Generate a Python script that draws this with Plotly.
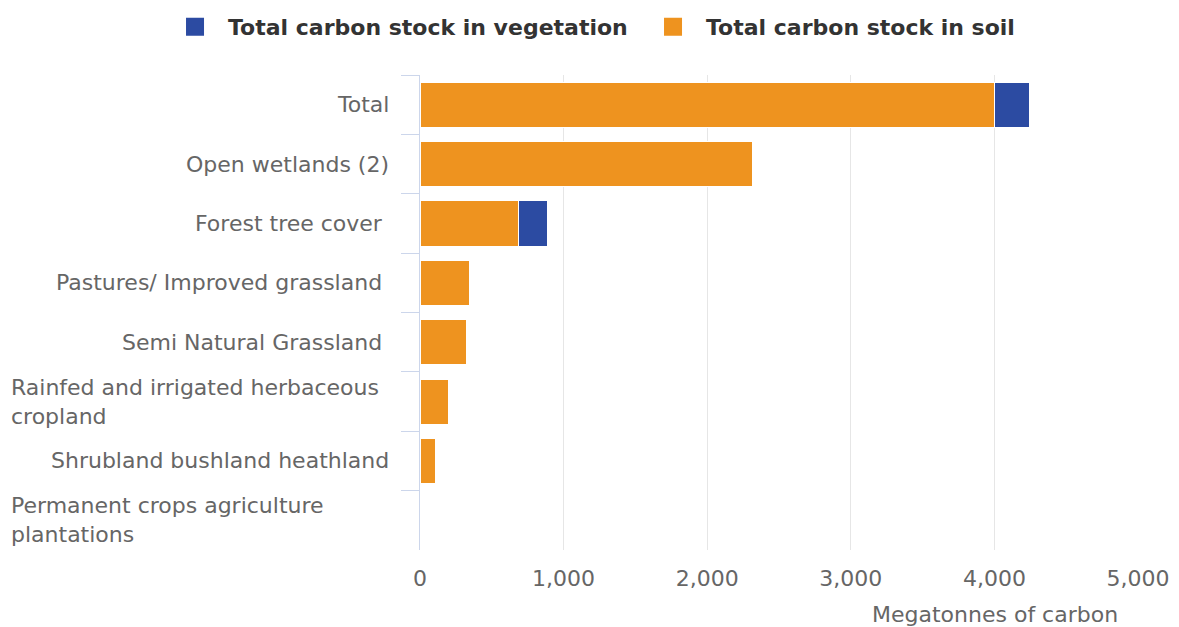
import plotly.graph_objects as go

categories = [
    "Total",
    "Open wetlands (2)",
    "Forest tree cover\u00a0",
    "Pastures/ Improved grassland\u00a0",
    "Semi Natural Grassland\u00a0",
    "Rainfed and irrigated herbaceous<br>cropland",
    "Shrubland bushland heathland",
    "Permanent crops agriculture<br>plantations",
]
soil = [4000, 2318, 683, 348, 321, 195, 111, 10]
vegetation = [245, 0, 202, 0, 0, 0, 0, 0]
x_ticks = [0, 1000, 2000, 3000, 4000, 5000]

series_names = ["Total carbon stock in vegetation", "Total carbon stock in soil"]
ORANGE = "#ee931f"
BLUE = "#2c4ba2"
FONT = "DejaVu Sans"

cat_ids = list(range(len(categories)))

fig = go.Figure()
fig.add_trace(go.Bar(
    y=cat_ids, x=soil, orientation="h", name=series_names[1],
    marker=dict(color=ORANGE, line=dict(color="#ffffff", width=1)),
    showlegend=False,
))
fig.add_trace(go.Bar(
    y=cat_ids, x=vegetation, orientation="h", name=series_names[0],
    marker=dict(color=BLUE, line=dict(color="#ffffff", width=1)),
    showlegend=False,
))
# legend entries
fig.add_trace(go.Scatter(x=[None], y=[None], mode="markers", name=series_names[0],
                         marker=dict(symbol="square", size=16, color=BLUE,
                                     line=dict(color=BLUE, width=2))))
fig.add_trace(go.Scatter(x=[None], y=[None], mode="markers", name=series_names[1],
                         marker=dict(symbol="square", size=16, color=ORANGE,
                                     line=dict(color=ORANGE, width=2))))

annotations = []
for i, lab in enumerate(categories):
    if "<br>" in lab:
        annotations.append(dict(x=0, xref="paper", y=i, yref="y", text=lab,
                                xanchor="left", align="left", xshift=-411,
                                showarrow=False,
                                font=dict(family=FONT, size=22, color="#666666")))
    else:
        annotations.append(dict(x=0, xref="paper", y=i, yref="y", text=lab,
                                xanchor="right", align="right", xshift=-29,
                                showarrow=False,
                                font=dict(family=FONT, size=22, color="#666666")))
annotations.append(dict(x=1, xref="paper", y=0, yref="paper", yanchor="middle",
                        yshift=-64, xanchor="right", xshift=-18,
                        text="Megatonnes of carbon", showarrow=False,
                        font=dict(family=FONT, size=22, color="#666666")))

fig.update_layout(
    width=1171, height=619,
    margin=dict(l=412, r=41, t=67, b=77, autoexpand=False),
    paper_bgcolor="#ffffff", plot_bgcolor="#ffffff",
    barmode="stack", bargap=0.24,
    font=dict(family=FONT, size=22, color="#666666"),
    showlegend=True,
    legend=dict(orientation="h", traceorder="normal",
                x=-0.3593, xref="paper", xanchor="left",
                y=1.101, yref="paper", yanchor="middle",
                font=dict(family=FONT, size=22, color="#333333", weight="bold"),
                itemsizing="trace", itemwidth=56, tracegroupgap=0,
                entrywidth=407, entrywidthmode="pixels",
                bgcolor="rgba(0,0,0,0)"),
    annotations=annotations,
    xaxis=dict(range=[0, 5000], tickvals=x_ticks, tickformat=",",
               showgrid=True, gridcolor="#e6e6e6", gridwidth=1,
               zeroline=False, showline=False, ticks="", automargin=False,
               ticklabelstandoff=13,
               tickfont=dict(family=FONT, size=22, color="#666666")),
    yaxis=dict(type="category", categoryorder="array", categoryarray=cat_ids,
               autorange="reversed", tickson="boundaries", automargin=False,
               ticks="outside", ticklen=18, tickcolor="#ccd6eb", tickwidth=1,
               showline=True, linecolor="#ccd6eb", linewidth=1,
               showgrid=False, showticklabels=False, zeroline=False),
)

fig.write_html("out.html")
